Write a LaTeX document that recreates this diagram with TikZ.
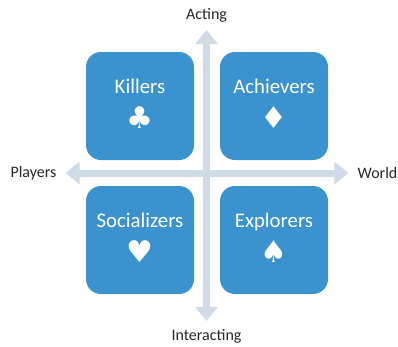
\documentclass[tikz,border=0pt]{standalone}
\usepackage{fontspec}
\setmainfont{Carlito}
\newfontfamily\suitfont{DejaVu Sans}
\definecolor{boxblue}{HTML}{3A92CE}
\definecolor{axisgray}{HTML}{CFDBE7}
\usetikzlibrary{arrows.meta, positioning}

\tikzset{
	quadbox/.style={fill=boxblue, rounded corners=15pt, minimum size=108pt, inner sep=0pt},
	quadtext/.style={text=white, font=\fontsize{20.8pt}{22pt}\selectfont, inner sep=0pt},
	quadsuit/.style={text=white, font=\fontsize{30pt}{30pt}\suitfont, inner sep=0pt},
	axislabel/.style={font=\fontsize{16pt}{18pt}\selectfont, text=black!85, inner sep=0pt},
	axisarrow/.style={draw=axisgray, line width=7pt, -{Triangle[length=14pt, width=22pt]}},
}

\begin{document}
\begin{tikzpicture}[x=1pt, y=-1pt]

\useasboundingbox (0,0) rectangle (398,346);

\coordinate (centre) at (206.5, 173);

\foreach \name/\xc/\yc/\title/\suit in {
	killers/140/106/Killers/♣,
	achievers/274/106/Achievers/♦,
	socializers/140/240/Socializers/♥,
	explorers/274/240/Explorers/♠} {
	\node[quadbox] (\name) at (\xc, \yc) {}; % blue square
	\node[quadtext, anchor=base] (\name title) at (\xc, \yc - 13) {\title};
	\node[quadsuit] (\name suit) at (\xc, \yc + 12) {\suit};
}

% axis labels, the arrows stop at their borders
\node[axislabel, inner xsep=9pt] (players) at (33.5, 173) {Players};
\node[axislabel, inner xsep=9pt] (world) at (377.5, 173) {World};
\node[axislabel, inner ysep=8pt] (acting) at (206.5, 15) {Acting};
\node[axislabel, inner ysep=8pt] (interacting) at (206.5, 336) {Interacting};

\foreach \target in {players, world, acting, interacting} {
	\draw[axisarrow] (centre) -- (\target);
}

\end{tikzpicture}
\end{document}
